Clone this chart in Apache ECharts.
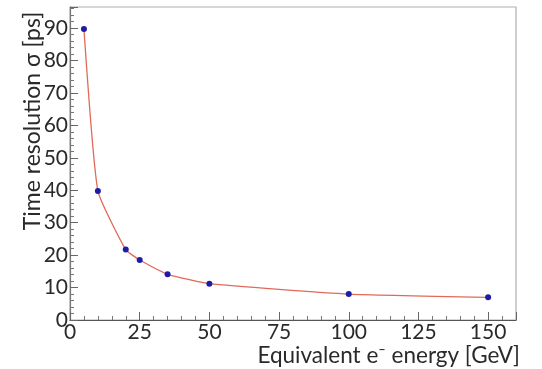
<!DOCTYPE html>
<html>
<head>
<meta charset="utf-8">
<script src="https://cdn.jsdelivr.net/npm/echarts@6/dist/echarts.min.js"></script>
<style>
  html, body { margin: 0; padding: 0; background: #fff; }
  #main { width: 542px; height: 369px; }
</style>
</head>
<body>
<div id="main"></div>
<script>
// beam energy [GeV] and measured time resolution [ps]
const energies = [5, 10, 20, 25, 35, 50, 100, 150];
const sigmas = [89.7, 39.8, 21.7, 18.5, 14.1, 11.2, 8.0, 7.0];

const xTitle = 'Equivalent e\u207B energy [GeV]';
const yTitle = 'Time resolution \u03C3 [ps]';

const fontFamily = 'Lato, "Open Sans", sans-serif';

const chartDom = document.getElementById('main');
const myChart = echarts.init(chartDom, null, { renderer: 'canvas' });

const points = energies.map((e, i) => [e, sigmas[i]]);

const option = {
  animation: false,
  backgroundColor: '#fff',
  grid: {
    left: 70,
    right: 26,
    top: 7,
    bottom: 49,
    show: true,
    borderColor: '#b0b0b0',
    borderWidth: 1.2
  },
  xAxis: {
    type: 'value',
    min: 0,
    max: 160,
    interval: 25,
    axisLine: { show: true, onZero: false, lineStyle: { color: '#555', width: 1.2 } },
    axisTick: { show: true, inside: true, length: 8, lineStyle: { color: '#666' } },
    minorTick: { show: true, splitNumber: 5, length: 4, lineStyle: { color: '#777' } },
    splitLine: { show: false },
    axisLabel: {
      showMaxLabel: false,
      color: '#2a2a2a',
      fontSize: 21,
      fontFamily,
      margin: 2
    }
  },
  yAxis: {
    type: 'value',
    min: 0,
    max: 96.5,
    interval: 10,
    axisLine: { show: true, lineStyle: { color: '#777', width: 1.2 } },
    axisTick: { show: true, inside: true, length: 8, lineStyle: { color: '#666' } },
    minorTick: { show: true, splitNumber: 5, length: 4, lineStyle: { color: '#777' } },
    splitLine: { show: false },
    axisLabel: {
      showMaxLabel: false,
      color: '#2a2a2a',
      fontSize: 21,
      fontFamily,
      margin: 2
    }
  },
  graphic: [
    {
      type: 'text',
      x: 520,
      y: 356,
      style: {
        text: xTitle,
        fill: '#2a2a2a',
        font: '22.5px ' + fontFamily,
        textAlign: 'right',
        textVerticalAlign: 'middle'
      }
    },
    {
      type: 'text',
      x: 33,
      y: 121,
      rotation: Math.PI / 2,
      style: {
        text: yTitle,
        fill: '#2a2a2a',
        font: '23px ' + fontFamily,
        textAlign: 'center',
        textVerticalAlign: 'middle'
      }
    }
  ],
  series: [
    {
      type: 'line',
      data: points,
      smooth: 0.15,
      symbol: 'circle',
      symbolSize: 6,
      lineStyle: { color: '#e06a5a', width: 1.3 },
      itemStyle: { color: '#1c1ca8' }
    }
  ]
};

myChart.setOption(option);
</script>
</body>
</html>
